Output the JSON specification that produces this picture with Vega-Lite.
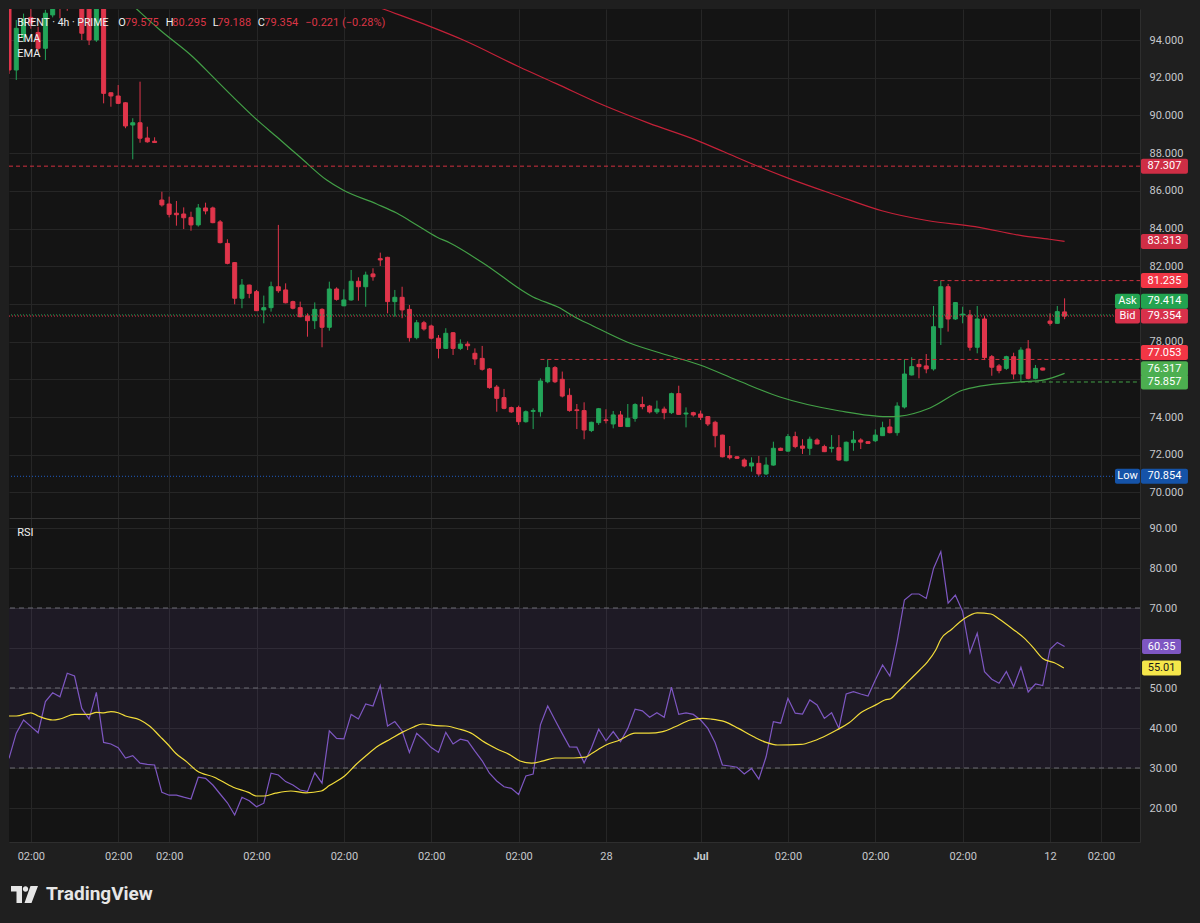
{
"$schema":"https://vega.github.io/schema/vega-lite/v6.json",
"width":1131,"height":833,
"autosize":{"type":"none"},
"padding":{"left":9,"top":9,"right":60,"bottom":81},
"background":"#1f1f1f",
"config":{"view":{"fill":"#141414","stroke":null},"font":"Roboto","axis":{"labelFont":"Roboto"}},
"datasets":{
"candles":[
{"i":0,"o":95.8,"h":96.2,"l":92.2,"c":92.41},{"i":1,"o":92.41,"h":95.06,"l":91.88,"c":94.62},{"i":2,"o":94.16,"h":95.4,"l":93.9,"c":95.1},{"i":3,"o":95.2,"h":95.9,"l":94.6,"c":94.9},{"i":4,"o":94.4,"h":94.7,"l":93.4,"c":93.56},{"i":5,"o":93.56,"h":95.6,"l":92.94,"c":95.42},{"i":6,"o":95.33,"h":96.3,"l":95.2,"c":96.1},{"i":7,"o":96.4,"h":96.8,"l":95.15,"c":96.0},{"i":8,"o":96.5,"h":97.0,"l":95.55,"c":96.2},{"i":9,"o":96.2,"h":97.3,"l":95.8,"c":96.9},
{"i":10,"o":96.2,"h":96.6,"l":94.0,"c":94.36},{"i":11,"o":95.9,"h":96.2,"l":93.73,"c":94.0},{"i":12,"o":94.0,"h":96.3,"l":93.9,"c":96.0},{"i":13,"o":96.0,"h":96.3,"l":90.64,"c":91.17},{"i":14,"o":91.2,"h":91.22,"l":90.46,"c":91.03},{"i":15,"o":91.03,"h":91.61,"l":90.6,"c":90.64},{"i":16,"o":90.67,"h":90.7,"l":89.32,"c":89.44},{"i":17,"o":89.49,"h":89.85,"l":87.67,"c":89.61},{"i":18,"o":89.61,"h":91.79,"l":88.55,"c":88.79},{"i":19,"o":88.8,"h":89.4,"l":88.55,"c":88.6},
{"i":20,"o":88.63,"h":88.84,"l":88.55,"c":88.56},{"i":21,"o":85.51,"h":85.95,"l":85.16,"c":85.25},{"i":22,"o":85.3,"h":85.69,"l":84.59,"c":84.75},{"i":23,"o":84.81,"h":85.46,"l":84.15,"c":84.73},{"i":24,"o":84.77,"h":85.12,"l":83.97,"c":84.57},{"i":25,"o":84.59,"h":84.89,"l":83.88,"c":84.19},{"i":26,"o":84.19,"h":85.3,"l":84.1,"c":85.09},{"i":27,"o":85.09,"h":85.37,"l":84.75,"c":84.93},{"i":28,"o":85.09,"h":85.16,"l":84.28,"c":84.31},{"i":29,"o":84.35,"h":84.45,"l":83.21,"c":83.25},
{"i":30,"o":83.21,"h":83.43,"l":82.1,"c":82.15},{"i":31,"o":82.19,"h":82.22,"l":79.98,"c":80.3},{"i":32,"o":80.3,"h":81.32,"l":79.77,"c":81.0},{"i":33,"o":81.0,"h":81.02,"l":80.3,"c":80.56},{"i":34,"o":80.65,"h":80.74,"l":79.62,"c":79.64},{"i":35,"o":79.68,"h":80.44,"l":78.97,"c":79.8},{"i":36,"o":79.8,"h":81.18,"l":79.59,"c":80.91},{"i":37,"o":80.91,"h":84.19,"l":80.59,"c":80.7},{"i":38,"o":80.74,"h":81.09,"l":80.03,"c":80.06},{"i":39,"o":80.12,"h":80.17,"l":79.71,"c":79.77},
{"i":40,"o":79.8,"h":80.12,"l":79.29,"c":79.32},{"i":41,"o":79.36,"h":79.5,"l":78.26,"c":79.11},{"i":42,"o":79.11,"h":80.08,"l":78.67,"c":79.71},{"i":43,"o":79.71,"h":79.77,"l":77.7,"c":78.76},{"i":44,"o":78.76,"h":81.18,"l":78.58,"c":80.79},{"i":45,"o":80.79,"h":80.88,"l":80.17,"c":80.24},{"i":46,"o":79.9,"h":80.77,"l":79.88,"c":80.21},{"i":47,"o":80.21,"h":81.8,"l":80.17,"c":81.2},{"i":48,"o":81.2,"h":81.41,"l":80.17,"c":80.91},{"i":49,"o":80.91,"h":81.71,"l":79.85,"c":81.53},
{"i":50,"o":81.59,"h":81.89,"l":81.23,"c":81.44},{"i":51,"o":82.4,"h":82.72,"l":82.01,"c":82.33},{"i":52,"o":82.47,"h":82.5,"l":79.5,"c":80.12},{"i":53,"o":80.12,"h":80.74,"l":79.32,"c":80.35},{"i":54,"o":80.35,"h":80.91,"l":79.24,"c":79.68},{"i":55,"o":79.71,"h":79.94,"l":78.0,"c":78.21},{"i":56,"o":78.21,"h":79.15,"l":78.12,"c":79.0},{"i":57,"o":79.0,"h":79.1,"l":78.58,"c":78.67},{"i":58,"o":78.83,"h":78.9,"l":78.12,"c":78.18},{"i":59,"o":78.18,"h":78.35,"l":77.11,"c":77.64},
{"i":60,"o":77.64,"h":78.71,"l":77.62,"c":78.44},{"i":61,"o":78.47,"h":78.51,"l":77.29,"c":77.64},{"i":62,"o":77.64,"h":78.12,"l":77.55,"c":77.87},{"i":63,"o":77.87,"h":78.01,"l":77.55,"c":77.78},{"i":64,"o":77.38,"h":77.64,"l":76.76,"c":77.08},{"i":65,"o":77.11,"h":77.77,"l":76.46,"c":76.53},{"i":66,"o":76.55,"h":76.6,"l":75.5,"c":75.56},{"i":67,"o":75.59,"h":75.7,"l":74.28,"c":74.99},{"i":68,"o":75.03,"h":75.49,"l":74.41,"c":74.46},{"i":69,"o":74.5,"h":74.55,"l":74.22,"c":74.27},
{"i":70,"o":74.5,"h":74.6,"l":73.58,"c":73.75},{"i":71,"o":73.75,"h":74.35,"l":73.7,"c":74.28},{"i":72,"o":74.3,"h":74.46,"l":73.36,"c":74.34},{"i":73,"o":74.28,"h":76.05,"l":74.02,"c":75.91},{"i":74,"o":75.87,"h":77.053,"l":75.79,"c":76.62},{"i":75,"o":76.62,"h":76.7,"l":75.8,"c":75.87},{"i":76,"o":76.0,"h":76.41,"l":75.04,"c":75.11},{"i":77,"o":75.15,"h":75.52,"l":74.28,"c":74.34},{"i":78,"o":74.38,"h":74.69,"l":73.36,"c":74.34},{"i":79,"o":74.34,"h":74.78,"l":72.82,"c":73.31},
{"i":80,"o":73.28,"h":73.75,"l":73.2,"c":73.72},{"i":81,"o":73.7,"h":74.48,"l":73.58,"c":74.44},{"i":82,"o":73.85,"h":74.41,"l":73.66,"c":73.81},{"i":83,"o":73.63,"h":74.32,"l":73.4,"c":74.11},{"i":84,"o":74.11,"h":74.32,"l":73.48,"c":73.5},{"i":85,"o":73.49,"h":74.69,"l":73.47,"c":73.93},{"i":86,"o":73.93,"h":74.73,"l":73.75,"c":74.66},{"i":87,"o":74.66,"h":75.08,"l":74.41,"c":74.55},{"i":88,"o":74.58,"h":74.64,"l":74.19,"c":74.27},{"i":89,"o":74.27,"h":74.87,"l":74.16,"c":74.42},
{"i":90,"o":74.42,"h":74.55,"l":73.88,"c":74.23},{"i":91,"o":74.23,"h":75.29,"l":74.16,"c":75.24},{"i":92,"o":75.24,"h":75.66,"l":74.13,"c":74.14},{"i":93,"o":74.16,"h":74.51,"l":73.45,"c":74.21},{"i":94,"o":74.23,"h":74.28,"l":74.02,"c":74.11},{"i":95,"o":74.16,"h":74.34,"l":73.84,"c":73.98},{"i":96,"o":74.02,"h":74.05,"l":73.52,"c":73.63},{"i":97,"o":73.72,"h":73.8,"l":72.39,"c":73.01},{"i":98,"o":73.04,"h":73.06,"l":71.86,"c":71.89},{"i":99,"o":71.95,"h":72.46,"l":71.75,"c":71.84},
{"i":100,"o":71.89,"h":71.93,"l":71.77,"c":71.81},{"i":101,"o":71.72,"h":71.81,"l":71.33,"c":71.4},{"i":102,"o":71.4,"h":71.86,"l":71.1,"c":71.56},{"i":103,"o":71.54,"h":71.93,"l":70.854,"c":70.98},{"i":104,"o":70.98,"h":71.86,"l":70.92,"c":71.45},{"i":105,"o":71.45,"h":72.69,"l":71.42,"c":72.34},{"i":106,"o":72.34,"h":72.38,"l":72.2,"c":72.23},{"i":107,"o":72.19,"h":73.1,"l":72.16,"c":72.96},{"i":108,"o":72.96,"h":73.22,"l":72.34,"c":72.43},{"i":109,"o":72.46,"h":72.82,"l":72.04,"c":72.34},
{"i":110,"o":72.34,"h":72.96,"l":71.98,"c":72.82},{"i":111,"o":72.78,"h":72.87,"l":72.55,"c":72.57},{"i":112,"o":72.43,"h":72.53,"l":72.14,"c":72.16},{"i":113,"o":72.34,"h":73.04,"l":72.12,"c":72.39},{"i":114,"o":72.37,"h":73.04,"l":71.68,"c":71.72},{"i":115,"o":71.68,"h":72.7,"l":71.65,"c":72.66},{"i":116,"o":72.64,"h":73.26,"l":72.21,"c":72.78},{"i":117,"o":72.78,"h":72.87,"l":72.3,"c":72.67},{"i":118,"o":72.69,"h":72.72,"l":72.58,"c":72.6},{"i":119,"o":72.74,"h":73.34,"l":72.67,"c":73.04},
{"i":120,"o":73.01,"h":73.75,"l":73.0,"c":73.43},{"i":121,"o":73.47,"h":73.89,"l":73.13,"c":73.17},{"i":122,"o":73.17,"h":74.78,"l":73.01,"c":74.58},{"i":123,"o":74.53,"h":77.06,"l":74.45,"c":76.28},{"i":124,"o":76.23,"h":77.17,"l":76.2,"c":76.67},{"i":125,"o":76.79,"h":77.03,"l":76.05,"c":76.67},{"i":126,"o":76.71,"h":77.34,"l":76.32,"c":76.55},{"i":127,"o":76.55,"h":79.89,"l":76.46,"c":78.79},{"i":128,"o":78.74,"h":81.235,"l":77.82,"c":80.91},{"i":129,"o":80.91,"h":81.06,"l":78.53,"c":79.2},
{"i":130,"o":79.2,"h":80.1,"l":79.15,"c":80.07},{"i":131,"o":79.41,"h":79.85,"l":78.97,"c":79.46},{"i":132,"o":79.41,"h":79.68,"l":77.52,"c":77.7},{"i":133,"o":77.7,"h":79.89,"l":77.38,"c":79.2},{"i":134,"o":79.2,"h":79.36,"l":77.02,"c":77.15},{"i":135,"o":77.2,"h":77.29,"l":76.19,"c":76.64},{"i":136,"o":76.71,"h":76.81,"l":76.32,"c":76.46},{"i":137,"o":76.58,"h":77.25,"l":76.5,"c":77.2},{"i":138,"o":77.2,"h":77.41,"l":76.0,"c":76.28},{"i":139,"o":76.28,"h":77.7,"l":75.857,"c":77.55},
{"i":140,"o":77.61,"h":78.08,"l":76.0,"c":76.05},{"i":141,"o":76.05,"h":76.76,"l":76.0,"c":76.58},{"i":142,"o":76.6,"h":76.62,"l":76.47,"c":76.49},{"i":143,"o":79.09,"h":79.5,"l":78.85,"c":78.97},{"i":144,"o":78.97,"h":79.89,"l":78.95,"c":79.59},{"i":145,"o":79.575,"h":80.295,"l":79.188,"c":79.354}
],
"ema50":[{"i":14,"v":96.9},{"i":17.54,"v":95.64},{"i":20.74,"v":94.53},{"i":25.27,"v":93.1},{"i":28.02,"v":92.04},{"i":30.77,"v":90.98},{"i":34.07,"v":89.76},{"i":36.81,"v":88.85},{"i":39.97,"v":87.79},{"i":43.64,"v":86.57},{"i":45.88,"v":86.04},{"i":50.51,"v":85.3},{"i":53.25,"v":84.82},{"i":56.0,"v":84.19},{"i":58.75,"v":83.55},{"i":60.58,"v":83.23},{"i":65.11,"v":82.17},{"i":71.98,"v":80.37},{"i":75.69,"v":79.78},{"i":77.47,"v":79.36},{"i":80.22,"v":78.83},{"i":84.89,"v":77.98},{"i":90.38,"v":77.29},{"i":94.92,"v":76.76},{"i":99.96,"v":75.96},{"i":105.9,"v":75.06},{"i":114.15,"v":74.32},{"i":120.56,"v":74.02},{"i":122.39,"v":74.05},{"i":126.51,"v":74.48},{"i":131.04,"v":75.43},{"i":133.38,"v":75.64},{"i":138.87,"v":75.86},{"i":142.03,"v":75.96},{"i":145,"v":76.317}],
"ema200":[{"i":46,"v":96.42},{"i":51.5,"v":95.63},{"i":57.9,"v":94.71},{"i":62.4,"v":94.0},{"i":70.05,"v":92.58},{"i":75.1,"v":91.7},{"i":81.6,"v":90.55},{"i":87.95,"v":89.58},{"i":94.4,"v":88.69},{"i":98.2,"v":88.07},{"i":102.7,"v":87.33},{"i":107.1,"v":86.66},{"i":113.5,"v":85.78},{"i":119.9,"v":84.94},{"i":126.3,"v":84.41},{"i":132.7,"v":84.1},{"i":139.1,"v":83.62},{"i":142.95,"v":83.43},{"i":145,"v":83.313}],
"levels":[{"name":"87.307","v":87.307,"start":0,"kind":"red"},{"name":"81.235","v":81.235,"start":127,"kind":"red"},{"name":"77.053","v":77.053,"start":73,"kind":"red"},{"name":"75.857","v":75.857,"start":139,"kind":"green"},{"name":"ask","v":79.414,"start":0,"kind":"ask"},{"name":"bid","v":79.354,"start":0,"kind":"bid"},{"name":"low","v":70.854,"start":0,"kind":"low"}],
"tags":[{"t":"87.307","v":87.307,"k":"lvl","n":""},{"t":"83.313","v":83.313,"k":"ema","n":""},{"t":"81.235","v":81.235,"k":"hi","n":""},{"t":"79.414","v":79.414,"k":"ask","n":"Ask"},{"t":"79.354","v":79.354,"k":"bid","n":"Bid"},{"t":"77.053","v":77.053,"k":"hi","n":""},{"t":"76.317","v":76.317,"k":"g","n":""},{"t":"75.857","v":75.857,"k":"g","n":""},{"t":"70.854","v":70.854,"k":"low","n":"Low"}],
"rsi":[
{"i":0,"r":32.4},{"i":1,"r":38.7},{"i":2,"r":42.0},{"i":3,"r":40.4},{"i":4,"r":38.8},{"i":5,"r":46.6},{"i":6,"r":48.8},{"i":7,"r":47.8},{"i":8,"r":53.7},{"i":9,"r":53.0},
{"i":10,"r":44.9},{"i":11,"r":42.2},{"i":12,"r":48.9},{"i":13,"r":36.4},{"i":14,"r":36.0},{"i":15,"r":35.1},{"i":16,"r":32.5},{"i":17,"r":33.1},{"i":18,"r":31.2},{"i":19,"r":30.9},
{"i":20,"r":30.75},{"i":21,"r":23.9},{"i":22,"r":23.2},{"i":23,"r":23.2},{"i":24,"r":22.7},{"i":25,"r":22.25},{"i":26,"r":27.7},{"i":27,"r":27.4},{"i":28,"r":25.75},{"i":29,"r":23.5},
{"i":30,"r":21.3},{"i":31,"r":18.25},{"i":32,"r":22.7},{"i":33,"r":21.8},{"i":34,"r":20.3},{"i":35,"r":21.2},{"i":36,"r":28.7},{"i":37,"r":28.25},{"i":38,"r":26.6},{"i":39,"r":25.75},
{"i":40,"r":24.5},{"i":41,"r":24.1},{"i":42,"r":28.8},{"i":43,"r":26.2},{"i":44,"r":39.3},{"i":45,"r":37.4},{"i":46,"r":37.3},{"i":47,"r":43.4},{"i":48,"r":42.25},{"i":49,"r":46.0},
{"i":50,"r":45.5},{"i":51,"r":50.6},{"i":52,"r":40.5},{"i":53,"r":41.6},{"i":54,"r":39.25},{"i":55,"r":33.9},{"i":56,"r":38.7},{"i":57,"r":37.0},{"i":58,"r":35.1},{"i":59,"r":33.9},
{"i":60,"r":38.9},{"i":61,"r":36.0},{"i":62,"r":37.2},{"i":63,"r":36.8},{"i":64,"r":34.2},{"i":65,"r":31.8},{"i":66,"r":28.7},{"i":67,"r":26.75},{"i":68,"r":25.3},{"i":69,"r":24.9},
{"i":70,"r":23.4},{"i":71,"r":28.0},{"i":72,"r":28.5},{"i":73,"r":40.8},{"i":74,"r":45.5},{"i":75,"r":42.0},{"i":76,"r":38.6},{"i":77,"r":35.3},{"i":78,"r":35.2},{"i":79,"r":31.3},
{"i":80,"r":35.0},{"i":81,"r":39.7},{"i":82,"r":36.8},{"i":83,"r":39.1},{"i":84,"r":36.6},{"i":85,"r":39.9},{"i":86,"r":44.7},{"i":87,"r":44.3},{"i":88,"r":42.7},{"i":89,"r":43.8},
{"i":90,"r":42.7},{"i":91,"r":50.2},{"i":92,"r":43.4},{"i":93,"r":43.8},{"i":94,"r":43.4},{"i":95,"r":42.0},{"i":96,"r":39.9},{"i":97,"r":36.3},{"i":98,"r":30.75},{"i":99,"r":30.5},
{"i":100,"r":30.2},{"i":101,"r":28.5},{"i":102,"r":29.9},{"i":103,"r":27.2},{"i":104,"r":32.8},{"i":105,"r":41.6},{"i":106,"r":41.2},{"i":107,"r":47.4},{"i":108,"r":43.7},{"i":109,"r":43.5},
{"i":110,"r":47.0},{"i":111,"r":45.75},{"i":112,"r":42.4},{"i":113,"r":43.8},{"i":114,"r":39.9},{"i":115,"r":48.5},{"i":116,"r":49.1},{"i":117,"r":48.5},{"i":118,"r":48.0},{"i":119,"r":52.0},
{"i":120,"r":55.75},{"i":121,"r":53.0},{"i":122,"r":61.6},{"i":123,"r":72.0},{"i":124,"r":73.5},{"i":125,"r":73.5},{"i":126,"r":72.4},{"i":127,"r":79.9},{"i":128,"r":84.1},{"i":129,"r":71.2},
{"i":130,"r":73.2},{"i":131,"r":69.1},{"i":132,"r":58.8},{"i":133,"r":63.7},{"i":134,"r":54.1},{"i":135,"r":52.2},{"i":136,"r":51.2},{"i":137,"r":54.1},{"i":138,"r":50.3},{"i":139,"r":55.2},
{"i":140,"r":49.0},{"i":141,"r":51.0},{"i":142,"r":50.6},{"i":143,"r":59.7},{"i":144,"r":61.4},{"i":145,"r":60.35}
],
"rsima":[{"i":0,"m":43.0},{"i":1,"m":43.0},{"i":3,"m":43.8},{"i":4,"m":43.0},{"i":6,"m":42.0},{"i":7,"m":42.25},{"i":9,"m":43.4},{"i":11,"m":43.4},{"i":12,"m":43.9},{"i":13,"m":43.8},{"i":14,"m":44.1},{"i":15,"m":43.8},{"i":16,"m":43.0},{"i":18,"m":42.0},{"i":19.3,"m":40.5},{"i":20.8,"m":37.8},{"i":21.9,"m":35.75},{"i":22.9,"m":33.7},{"i":24.5,"m":31.4},{"i":25.8,"m":29.3},{"i":28.2,"m":27.7},{"i":30.8,"m":25.2},{"i":32.9,"m":23.9},{"i":34,"m":23.0},{"i":35,"m":23.0},{"i":36.6,"m":23.7},{"i":38.7,"m":24.25},{"i":40.8,"m":23.8},{"i":42.9,"m":24.25},{"i":44,"m":25.6},{"i":46.1,"m":28.0},{"i":47.6,"m":30.75},{"i":49,"m":33.0},{"i":50.8,"m":35.6},{"i":52.4,"m":37.25},{"i":54,"m":38.9},{"i":55.5,"m":40.2},{"i":56.8,"m":41.0},{"i":58.7,"m":40.6},{"i":60,"m":40.5},{"i":61.8,"m":39.75},{"i":63.7,"m":38.5},{"i":65,"m":36.8},{"i":67.1,"m":34.7},{"i":68.7,"m":33.4},{"i":70.2,"m":31.75},{"i":71.8,"m":31.2},{"i":73.4,"m":31.8},{"i":75,"m":32.5},{"i":77.6,"m":32.5},{"i":79.2,"m":32.7},{"i":80.1,"m":33.7},{"i":82,"m":35.75},{"i":83.9,"m":37.0},{"i":86,"m":38.7},{"i":87.9,"m":38.7},{"i":89.8,"m":39.1},{"i":91.5,"m":40.3},{"i":93.6,"m":42.0},{"i":95.3,"m":42.4},{"i":96.4,"m":42.25},{"i":98.3,"m":41.6},{"i":100.2,"m":39.9},{"i":102.3,"m":37.8},{"i":104,"m":36.4},{"i":105.6,"m":35.75},{"i":108.8,"m":35.9},{"i":110.5,"m":36.75},{"i":112.4,"m":38.25},{"i":113.7,"m":39.5},{"i":115.4,"m":41.3},{"i":117,"m":43.8},{"i":119.2,"m":45.9},{"i":120.3,"m":47.0},{"i":121.1,"m":47.3},{"i":121.9,"m":48.7},{"i":123.5,"m":51.6},{"i":125.1,"m":54.5},{"i":126.2,"m":56.6},{"i":127.3,"m":59.5},{"i":128,"m":62.2},{"i":129.5,"m":64.7},{"i":131.1,"m":67.2},{"i":133,"m":68.8},{"i":134.9,"m":68.5},{"i":136,"m":67.25},{"i":137.9,"m":64.7},{"i":139.5,"m":62.4},{"i":140.6,"m":60.3},{"i":142,"m":57.4},{"i":143.6,"m":56.3},{"i":144.9,"m":55.01}],
"rsiband":[{"lo":30,"hi":70}],
"rsilevels":[{"v":30},{"v":50},{"v":70}],
"rsitags":[{"t":"60.35","v":60.35,"k":"rsi"},{"t":"55.01","v":55.01,"k":"ma"}]
},
"resolve":{"scale":{"y":"independent","color":"independent"},"axis":{"y":"independent","x":"independent"}},
"layer":[
{"data":{"name":"candles"},"mark":{"type":"rule","strokeWidth":1,"clip":true},
 "encoding":{
  "x":{"field":"i","type":"quantitative","scale":{"domain":[0,155.36],"nice":false,"zero":false,"padding":0},
   "axis":{"values":[3,15,22,34,46,58,70,82,95,107,119,131,143,150],"labelExpr":"datum.value == 82 ? '28' : datum.value == 95 ? 'Jul' : datum.value == 143 ? '12' : '02:00'","grid":true,"gridColor":"#262626","domain":true,"domainColor":"#2e2e2e","ticks":false,"labelPadding":8,"labelColor":"#c6c8cc","labelFontSize":11,"labelFontWeight":{"condition":{"test":"datum.value == 95","value":"bold"},"value":"normal"},"labelFlush":false,"labelOverlap":false,"title":null}},
  "y":{"field":"l","type":"quantitative","scale":{"domain":[51.4536,95.6446],"nice":false,"zero":false,"padding":0},
   "axis":{"orient":"right","values":[68.642,70,72,74,76,78,80,82,84,86,88,90,92,94],"labelExpr":"datum.value < 69 || datum.value == 80 || datum.value == 76 ? '' : format(datum.value, '.3f')","grid":true,"gridColor":{"condition":{"test":"datum.value < 69","value":"#343434"},"value":"#262626"},"domain":true,"domainColor":"#2e2e2e","ticks":false,"labelPadding":9,"labelColor":"#c6c8cc","labelFontSize":11,"labelFlush":false,"labelOverlap":false,"title":null}},
  "y2":{"field":"h"},
  "color":{"condition":{"test":"datum.c >= datum.o","value":"#23a559"},"value":"#e0354b"}}},
{"data":{"name":"candles"},"mark":{"type":"bar","size":4,"strokeWidth":1,"clip":true},
 "encoding":{
  "x":{"field":"i","type":"quantitative","scale":{"domain":[0,155.36],"nice":false,"zero":false,"padding":0},"axis":null},
  "y":{"field":"o","type":"quantitative","scale":{"domain":[51.4536,95.6446],"nice":false,"zero":false,"padding":0},"axis":null},
  "y2":{"field":"c"},
  "color":{"condition":{"test":"datum.c >= datum.o","value":"#23a559"},"value":"#e0354b"},
  "stroke":{"condition":{"test":"datum.c >= datum.o","value":"#23a559"},"value":"#e0354b"}}},
{"data":{"name":"ema50"},"mark":{"type":"line","color":"#43a047","strokeWidth":1.2,"interpolate":"monotone","clip":true},
 "encoding":{"x":{"field":"i","type":"quantitative","scale":{"domain":[0,155.36],"nice":false,"zero":false,"padding":0},"axis":null},"y":{"field":"v","type":"quantitative","scale":{"domain":[51.4536,95.6446],"nice":false,"zero":false,"padding":0},"axis":null}}},
{"data":{"name":"ema200"},"mark":{"type":"line","color":"#c42138","strokeWidth":1.2,"interpolate":"monotone","clip":true},
 "encoding":{"x":{"field":"i","type":"quantitative","scale":{"domain":[0,155.36],"nice":false,"zero":false,"padding":0},"axis":null},"y":{"field":"v","type":"quantitative","scale":{"domain":[51.4536,95.6446],"nice":false,"zero":false,"padding":0},"axis":null}}},
{"data":{"name":"levels"},"transform":[{"filter":"datum.kind == 'red'"}],"mark":{"type":"rule","color":"#d0303f","strokeDash":[4,3],"strokeWidth":1},
 "encoding":{"x":{"field":"start","type":"quantitative","scale":{"domain":[0,155.36],"nice":false,"zero":false,"padding":0},"axis":null},"x2":{"datum":155.36},"y":{"field":"v","type":"quantitative","scale":{"domain":[51.4536,95.6446],"nice":false,"zero":false,"padding":0},"axis":null}}},
{"data":{"name":"levels"},"transform":[{"filter":"datum.kind == 'green'"}],"mark":{"type":"rule","color":"#43a047","strokeDash":[4,3],"strokeWidth":1},
 "encoding":{"x":{"field":"start","type":"quantitative","scale":{"domain":[0,155.36],"nice":false,"zero":false,"padding":0},"axis":null},"x2":{"datum":155.36},"y":{"field":"v","type":"quantitative","scale":{"domain":[51.4536,95.6446],"nice":false,"zero":false,"padding":0},"axis":null}}},
{"data":{"name":"levels"},"transform":[{"filter":"datum.kind == 'ask'"}],"mark":{"type":"rule","color":"#23a559","strokeDash":[1,2],"strokeWidth":1},
 "encoding":{"y":{"field":"v","type":"quantitative","scale":{"domain":[51.4536,95.6446],"nice":false,"zero":false,"padding":0},"axis":null}}},
{"data":{"name":"levels"},"transform":[{"filter":"datum.kind == 'bid'"}],"mark":{"type":"rule","color":"#e0354b","strokeDash":[1,2],"strokeDashOffset":1,"strokeWidth":1},
 "encoding":{"y":{"field":"v","type":"quantitative","scale":{"domain":[51.4536,95.6446],"nice":false,"zero":false,"padding":0},"axis":null}}},
{"data":{"name":"levels"},"transform":[{"filter":"datum.kind == 'low'"}],"mark":{"type":"rule","color":"#1e5cc0","strokeDash":[1,2],"strokeWidth":1},
 "encoding":{"y":{"field":"v","type":"quantitative","scale":{"domain":[51.4536,95.6446],"nice":false,"zero":false,"padding":0},"axis":null}}},
{"data":{"values":[{}]},
 "encoding":{"y":{"datum":94.886,"type":"quantitative","scale":{"domain":[51.4536,95.6446],"nice":false,"zero":false,"padding":0},"axis":null}},
 "layer":[
  {"mark":{"type":"text","text":"BRENT · 4h · PRIME","align":"left","baseline":"middle","fontSize":10.5,"color":"#f0f0f0","clip":false},"encoding":{"x":{"datum":1.14,"type":"quantitative","scale":{"domain":[0,155.36],"nice":false,"zero":false,"padding":0},"axis":null}}},
  {"mark":{"type":"text","text":"O","align":"left","baseline":"middle","fontSize":11,"color":"#f0f0f0","clip":false},"encoding":{"x":{"datum":15.01,"type":"quantitative","scale":{"domain":[0,155.36],"nice":false,"zero":false,"padding":0},"axis":null}}},
  {"mark":{"type":"text","text":"79.575","align":"left","baseline":"middle","fontSize":11,"color":"#dc3546","clip":false},"encoding":{"x":{"datum":15.93,"type":"quantitative","scale":{"domain":[0,155.36],"nice":false,"zero":false,"padding":0},"axis":null}}},
  {"mark":{"type":"text","text":"H","align":"left","baseline":"middle","fontSize":11,"color":"#f0f0f0","clip":false},"encoding":{"x":{"datum":21.52,"type":"quantitative","scale":{"domain":[0,155.36],"nice":false,"zero":false,"padding":0},"axis":null}}},
  {"mark":{"type":"text","text":"80.295","align":"left","baseline":"middle","fontSize":11,"color":"#dc3546","clip":false},"encoding":{"x":{"datum":22.43,"type":"quantitative","scale":{"domain":[0,155.36],"nice":false,"zero":false,"padding":0},"axis":null}}},
  {"mark":{"type":"text","text":"L","align":"left","baseline":"middle","fontSize":11,"color":"#f0f0f0","clip":false},"encoding":{"x":{"datum":27.98,"type":"quantitative","scale":{"domain":[0,155.36],"nice":false,"zero":false,"padding":0},"axis":null}}},
  {"mark":{"type":"text","text":"79.188","align":"left","baseline":"middle","fontSize":11,"color":"#dc3546","clip":false},"encoding":{"x":{"datum":28.61,"type":"quantitative","scale":{"domain":[0,155.36],"nice":false,"zero":false,"padding":0},"axis":null}}},
  {"mark":{"type":"text","text":"C","align":"left","baseline":"middle","fontSize":11,"color":"#f0f0f0","clip":false},"encoding":{"x":{"datum":34.16,"type":"quantitative","scale":{"domain":[0,155.36],"nice":false,"zero":false,"padding":0},"axis":null}}},
  {"mark":{"type":"text","text":"79.354","align":"left","baseline":"middle","fontSize":11,"color":"#dc3546","clip":false},"encoding":{"x":{"datum":35.07,"type":"quantitative","scale":{"domain":[0,155.36],"nice":false,"zero":false,"padding":0},"axis":null}}},
  {"mark":{"type":"text","text":"−0.221 (−0.28%)","align":"left","baseline":"middle","fontSize":11,"color":"#dc3546","clip":false},"encoding":{"x":{"datum":40.7,"type":"quantitative","scale":{"domain":[0,155.36],"nice":false,"zero":false,"padding":0},"axis":null}}}
 ]},
{"data":{"values":[{}]},"mark":{"type":"text","text":"EMA","align":"left","baseline":"middle","fontSize":11,"color":"#f0f0f0","clip":false},
 "encoding":{"x":{"datum":1.14,"type":"quantitative","scale":{"domain":[0,155.36],"nice":false,"zero":false,"padding":0},"axis":null},"y":{"datum":94.069,"type":"quantitative","scale":{"domain":[51.4536,95.6446],"nice":false,"zero":false,"padding":0},"axis":null}}},
{"data":{"values":[{}]},"mark":{"type":"text","text":"EMA","align":"left","baseline":"middle","fontSize":11,"color":"#f0f0f0","clip":false},
 "encoding":{"x":{"datum":1.14,"type":"quantitative","scale":{"domain":[0,155.36],"nice":false,"zero":false,"padding":0},"axis":null},"y":{"datum":93.257,"type":"quantitative","scale":{"domain":[51.4536,95.6446],"nice":false,"zero":false,"padding":0},"axis":null}}},
{"data":{"name":"tags"},"transform":[{"filter":"indexof(['87.307','83.313','81.235','79.354','75.857','70.854'], datum.t) >= 0"}],
 "encoding":{"y":{"field":"v","type":"quantitative","scale":{"domain":[51.4536,95.6446],"nice":false,"zero":false,"padding":0},"axis":null}},
 "layer":[
  {"mark":{"type":"tick","orient":"horizontal","size":47,"thickness":15,"opacity":1,"filled":true,"cornerRadius":2,"clip":false},
   "encoding":{"x":{"datum":158.72,"type":"quantitative","scale":{"domain":[0,155.36],"nice":false,"zero":false,"padding":0},"axis":null},"color":{"field":"k","type":"nominal","scale":{"domain":["lvl","ema","hi","ask","bid","g","low"],"range":["#cf2e45","#cf2e45","#f23645","#22a350","#d8314b","#4caf50","#1553a8"]},"legend":null}}},
  {"mark":{"type":"text","align":"center","baseline":"middle","fontSize":11,"color":"#ffffff","clip":false},
   "encoding":{"x":{"datum":158.72,"type":"quantitative","scale":{"domain":[0,155.36],"nice":false,"zero":false,"padding":0},"axis":null},"text":{"field":"t"}}},
  {"transform":[{"filter":"datum.n != ''"}],"mark":{"type":"tick","orient":"horizontal","size":25,"thickness":15,"opacity":1,"filled":true,"cornerRadius":2,"clip":false},
   "encoding":{"x":{"datum":153.64,"type":"quantitative","scale":{"domain":[0,155.36],"nice":false,"zero":false,"padding":0},"axis":null},"color":{"field":"k","type":"nominal","scale":{"domain":["lvl","ema","hi","ask","bid","g","low"],"range":["#cf2e45","#cf2e45","#f23645","#22a350","#d8314b","#4caf50","#1553a8"]},"legend":null}}},
  {"transform":[{"filter":"datum.n != ''"}],"mark":{"type":"text","align":"center","baseline":"middle","fontSize":11,"color":"#ffffff","clip":false},
   "encoding":{"x":{"datum":153.64,"type":"quantitative","scale":{"domain":[0,155.36],"nice":false,"zero":false,"padding":0},"axis":null},"text":{"field":"n"}}}
 ]},
{"data":{"name":"tags"},"transform":[{"filter":"datum.t == '79.414'"}],
 "encoding":{"y":{"field":"v","type":"quantitative","scale":{"domain":[51.4536,95.6446],"nice":false,"zero":false,"padding":0},"axis":null}},
 "layer":[
  {"mark":{"type":"tick","orient":"horizontal","size":47,"thickness":15,"opacity":1,"filled":true,"cornerRadius":2,"clip":false,"yOffset":-13.8,"color":"#22a350"},
   "encoding":{"x":{"datum":158.72,"type":"quantitative","scale":{"domain":[0,155.36],"nice":false,"zero":false,"padding":0},"axis":null}}},
  {"mark":{"type":"text","align":"center","baseline":"middle","fontSize":11,"color":"#ffffff","clip":false,"yOffset":-13.8},
   "encoding":{"x":{"datum":158.72,"type":"quantitative","scale":{"domain":[0,155.36],"nice":false,"zero":false,"padding":0},"axis":null},"text":{"field":"t"}}},
  {"mark":{"type":"tick","orient":"horizontal","size":25,"thickness":15,"opacity":1,"filled":true,"cornerRadius":2,"clip":false,"yOffset":-13.8,"color":"#22a350"},
   "encoding":{"x":{"datum":153.64,"type":"quantitative","scale":{"domain":[0,155.36],"nice":false,"zero":false,"padding":0},"axis":null}}},
  {"mark":{"type":"text","align":"center","baseline":"middle","fontSize":11,"color":"#ffffff","clip":false,"yOffset":-13.8},
   "encoding":{"x":{"datum":153.64,"type":"quantitative","scale":{"domain":[0,155.36],"nice":false,"zero":false,"padding":0},"axis":null},"text":{"field":"n"}}}
 ]},
{"data":{"name":"tags"},"transform":[{"filter":"datum.t == '77.053'"}],
 "encoding":{"y":{"field":"v","type":"quantitative","scale":{"domain":[51.4536,95.6446],"nice":false,"zero":false,"padding":0},"axis":null},"x":{"datum":158.72,"type":"quantitative","scale":{"domain":[0,155.36],"nice":false,"zero":false,"padding":0},"axis":null}},
 "layer":[
  {"mark":{"type":"tick","orient":"horizontal","size":47,"thickness":15,"opacity":1,"filled":true,"cornerRadius":2,"clip":false,"yOffset":-7,"color":"#f23645"}},
  {"mark":{"type":"text","align":"center","baseline":"middle","fontSize":11,"color":"#ffffff","clip":false,"yOffset":-6.5},"encoding":{"text":{"field":"t"}}}
 ]},
{"data":{"name":"tags"},"transform":[{"filter":"datum.t == '76.317'"}],
 "encoding":{"y":{"field":"v","type":"quantitative","scale":{"domain":[51.4536,95.6446],"nice":false,"zero":false,"padding":0},"axis":null},"x":{"datum":158.72,"type":"quantitative","scale":{"domain":[0,155.36],"nice":false,"zero":false,"padding":0},"axis":null}},
 "layer":[
  {"mark":{"type":"tick","orient":"horizontal","size":47,"thickness":15,"opacity":1,"filled":true,"cornerRadius":2,"clip":false,"yOffset":-4.5,"color":"#4caf50"}},
  {"mark":{"type":"text","align":"center","baseline":"middle","fontSize":11,"color":"#ffffff","clip":false,"yOffset":-4.5},"encoding":{"text":{"field":"t"}}}
 ]},
{"data":{"values":[{}]},"mark":{"type":"point","shape":"M-1,-0.63H-0.185V0.63H-0.593V-0.222H-1Z M-0.126,-0.407a0.2,0.2 0 1,0 0.4,0a0.2,0.2 0 1,0 -0.4,0Z M0.444,-0.63L1,-0.63L0.519,0.63L0,0.63Z","size":729,"filled":true,"fill":"#e6e6e6","opacity":1,"strokeWidth":0,"clip":false},
 "encoding":{"x":{"datum":2.13,"type":"quantitative","scale":{"domain":[0,155.36],"nice":false,"zero":false,"padding":0},"axis":null},"y":{"datum":48.67,"type":"quantitative","scale":{"domain":[51.4536,95.6446],"nice":false,"zero":false,"padding":0},"axis":null}}},
{"data":{"values":[{}]},"mark":{"type":"text","text":"TradingView","align":"left","baseline":"middle","fontSize":19,"fontWeight":"bold","color":"#e6e6e6","clip":false},
 "encoding":{"x":{"datum":5.08,"type":"quantitative","scale":{"domain":[0,155.36],"nice":false,"zero":false,"padding":0},"axis":null},"y":{"datum":48.67,"type":"quantitative","scale":{"domain":[51.4536,95.6446],"nice":false,"zero":false,"padding":0},"axis":null}}},
{"data":{"name":"rsiband"},"mark":{"type":"rect","color":"#7e57c2","opacity":0.1},
 "encoding":{"x":{"datum":0,"type":"quantitative","scale":{"domain":[0,155.36],"nice":false,"zero":false,"padding":0},"axis":null},"x2":{"datum":155.36},"y":{"field":"lo","type":"quantitative","scale":{"domain":[11.5,219.75],"nice":false,"zero":false,"padding":0},"axis":null},"y2":{"field":"hi"}}},
{"data":{"name":"rsilevels"},"mark":{"type":"rule","color":"#6a6a72","strokeDash":[5,4],"strokeWidth":1},
 "encoding":{"y":{"field":"v","type":"quantitative","scale":{"domain":[11.5,219.75],"nice":false,"zero":false,"padding":0},"axis":null}}},
{"data":{"name":"rsi"},"mark":{"type":"line","color":"#7e57c2","strokeWidth":1.2,"clip":true},
 "encoding":{"x":{"field":"i","type":"quantitative","scale":{"domain":[0,155.36],"nice":false,"zero":false,"padding":0},"axis":null},
  "y":{"field":"r","type":"quantitative","scale":{"domain":[11.5,219.75],"nice":false,"zero":false,"padding":0},
   "axis":{"orient":"right","values":[20,30,40,50,60,70,80,90],"labelExpr":"datum.value == 60 ? '' : format(datum.value, '.2f')","grid":true,"gridColor":"#262626","domain":false,"ticks":false,"labelPadding":9,"labelColor":"#c6c8cc","labelFontSize":11,"labelFlush":false,"labelOverlap":false,"title":null}}}},
{"data":{"name":"rsima"},"mark":{"type":"line","color":"#f2dc3a","strokeWidth":1.2,"interpolate":"monotone","clip":true},
 "encoding":{"x":{"field":"i","type":"quantitative","scale":{"domain":[0,155.36],"nice":false,"zero":false,"padding":0},"axis":null},"y":{"field":"m","type":"quantitative","scale":{"domain":[11.5,219.75],"nice":false,"zero":false,"padding":0},"axis":null}}},
{"data":{"values":[{}]},"mark":{"type":"text","text":"RSI","align":"left","baseline":"middle","fontSize":11,"color":"#f0f0f0","clip":false},
 "encoding":{"x":{"datum":1.14,"type":"quantitative","scale":{"domain":[0,155.36],"nice":false,"zero":false,"padding":0},"axis":null},"y":{"datum":88.83,"type":"quantitative","scale":{"domain":[11.5,219.75],"nice":false,"zero":false,"padding":0},"axis":null}}},
{"data":{"name":"rsitags"},
 "encoding":{"y":{"field":"v","type":"quantitative","scale":{"domain":[11.5,219.75],"nice":false,"zero":false,"padding":0},"axis":null},"x":{"datum":158.32,"type":"quantitative","scale":{"domain":[0,155.36],"nice":false,"zero":false,"padding":0},"axis":null}},
 "layer":[
  {"mark":{"type":"tick","orient":"horizontal","size":39,"thickness":15,"opacity":1,"filled":true,"cornerRadius":2,"clip":false},
   "encoding":{"color":{"condition":{"test":"datum.k == 'ma'","value":"#f5e64a"},"value":"#7e57c2"}}},
  {"mark":{"type":"text","align":"center","baseline":"middle","fontSize":11,"clip":false},
   "encoding":{"text":{"field":"t"},"color":{"condition":{"test":"datum.k == 'ma'","value":"#1a1a1a"},"value":"#ffffff"}}}
 ]}
]
}
